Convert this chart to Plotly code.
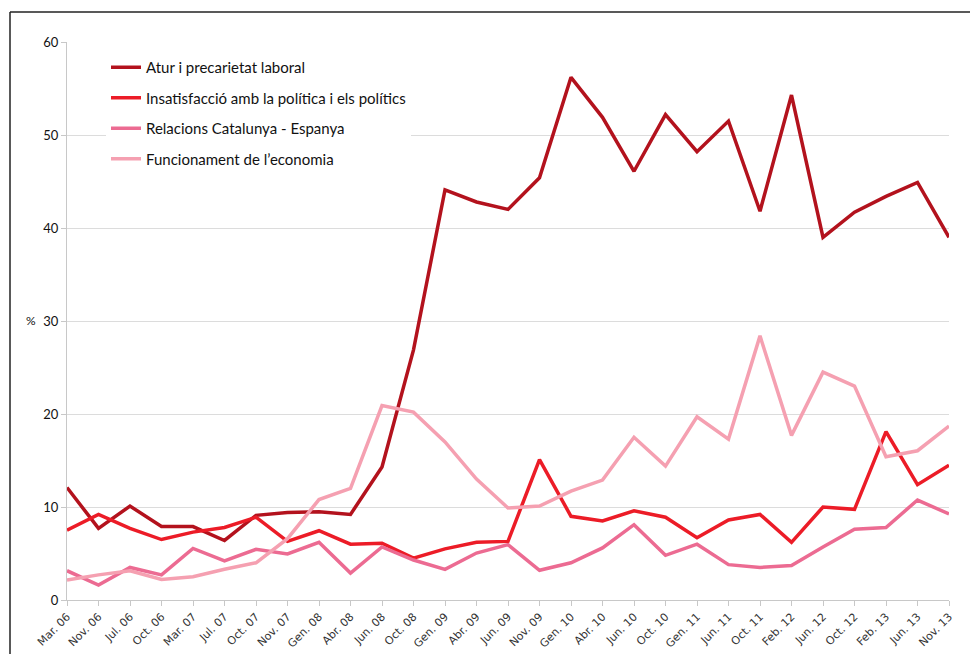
import plotly.graph_objects as go

categories = ["Mar. 06", "Nov. 06", "Jul. 06", "Oct. 06", "Mar. 07", "Jul. 07", "Oct. 07",
              "Nov. 07", "Gen. 08", "Abr. 08", "Jun. 08", "Oct. 08", "Gen. 09", "Abr. 09",
              "Jun. 09", "Nov. 09", "Gen. 10", "Abr. 10", "Jun. 10", "Oct. 10", "Gen. 11",
              "Jun. 11", "Oct. 11", "Feb. 12", "Jun. 12", "Oct. 12", "Feb. 13", "Jun. 13",
              "Nov. 13"]

atur = [12.1, 7.7, 10.1, 7.9, 7.9, 6.4, 9.1, 9.4, 9.5, 9.2, 14.3, 26.9, 44.1, 42.8, 42.0,
        45.4, 56.2, 51.9, 46.1, 52.2, 48.2, 51.5, 41.8, 54.3, 39.0, 41.7, 43.4, 44.9, 39.0]
insatisfaccio = [7.5, 9.2, 7.7, 6.5, 7.3, 7.8, 8.9, 6.3, 7.45, 6.0, 6.1, 4.5, 5.5, 6.2, 6.3,
                 15.1, 9.0, 8.5, 9.6, 8.9, 6.7, 8.6, 9.2, 6.2, 10.0, 9.75, 18.1, 12.4, 14.5]
relacions = [3.15, 1.6, 3.5, 2.7, 5.55, 4.2, 5.45, 4.95, 6.2, 2.9, 5.7, 4.3, 3.3, 5.05, 5.95,
             3.2, 4.0, 5.6, 8.1, 4.8, 6.0, 3.8, 3.5, 3.7, 5.7, 7.6, 7.8, 10.75, 9.25]
funcionament = [2.15, 2.7, 3.15, 2.2, 2.5, 3.3, 4.0, 6.6, 10.8, 12.0, 20.9, 20.2, 17.0, 13.0,
                9.9, 10.1, 11.7, 12.9, 17.5, 14.4, 19.7, 17.3, 28.4, 17.7, 24.5, 23.0, 15.4,
                16.05, 18.7]

series_names = ["Atur i precarietat laboral",
                "Insatisfacció amb la política i els polítics",
                "Relacions Catalunya - Espanya",
                "Funcionament de l\u2019economia"]
series_values = [atur, insatisfaccio, relacions, funcionament]
colors = ["#B3121D", "#EC1C27", "#EC6B92", "#F5A0B1"]

yticks = [0, 10, 20, 30, 40, 50, 60]

fig = go.Figure()
for name, vals, col in zip(series_names, series_values, colors):
    fig.add_trace(go.Scatter(
        x=list(range(len(categories))), y=vals, mode="lines", name=name,
        legendgroup=name,
        line=dict(color=col, width=3.5),
    ))

OFF = 8  # page body margin
W, H = 978 - 2 * OFF, 662 - 2 * OFF
L, T = 59, 34
pw, ph = 882, 558
R = W - L - pw
B = H - T - ph

def px_x(p):
    return (p - OFF - L) / pw

def px_y(p):
    return (OFF + T + ph - p) / ph

frame = dict(color="#222222", width=1.5)

fig.update_layout(
    width=W, height=H,
    margin=dict(l=L, r=R, t=T, b=B, autoexpand=False),
    paper_bgcolor="white", plot_bgcolor="white",
    showlegend=True,
    legend=dict(
        x=px_x(106), y=px_y(51), xanchor="left", yanchor="top",
        bgcolor="white", borderwidth=0,
        font=dict(family="Lato", size=15, color="#111111"),
        tracegroupgap=8, traceorder="grouped",
    ),
    xaxis=dict(
        range=[0, len(categories) - 1],
        tickmode="array",
        tickvals=list(range(len(categories))),
        ticktext=categories,
        tickangle=-45,
        tickfont=dict(family="DejaVu Sans", size=11, color="#333333"),
        showgrid=False, zeroline=False,
        showline=True, linecolor="#c8c8c8", linewidth=1,
        ticks="outside", ticklen=5, tickcolor="#c8c8c8",
    ),
    yaxis=dict(
        range=[0, 60],
        tickmode="array", tickvals=yticks,
        tickfont=dict(family="Lato", size=13, color="#111111"),
        showgrid=True, gridcolor="#dcdcdc", gridwidth=1,
        zeroline=False,
        showline=True, linecolor="#c8c8c8", linewidth=1,
        ticks="outside", ticklen=5, tickcolor="#c8c8c8",
    ),
    annotations=[dict(
        text="%", xref="paper", yref="paper", x=px_x(38), y=px_y(320),
        xanchor="right", yanchor="middle", showarrow=False,
        font=dict(family="Lato", size=12, color="#111111"),
    )],
    shapes=[
        dict(type="line", xref="paper", yref="paper",
             x0=px_x(10), x1=px_x(10), y0=px_y(662), y1=px_y(12),
             line=frame, layer="below"),
        dict(type="line", xref="paper", yref="paper",
             x0=px_x(10), x1=px_x(978), y0=px_y(12), y1=px_y(12),
             line=frame, layer="below"),
    ],
)

fig.write_html("out.html")
